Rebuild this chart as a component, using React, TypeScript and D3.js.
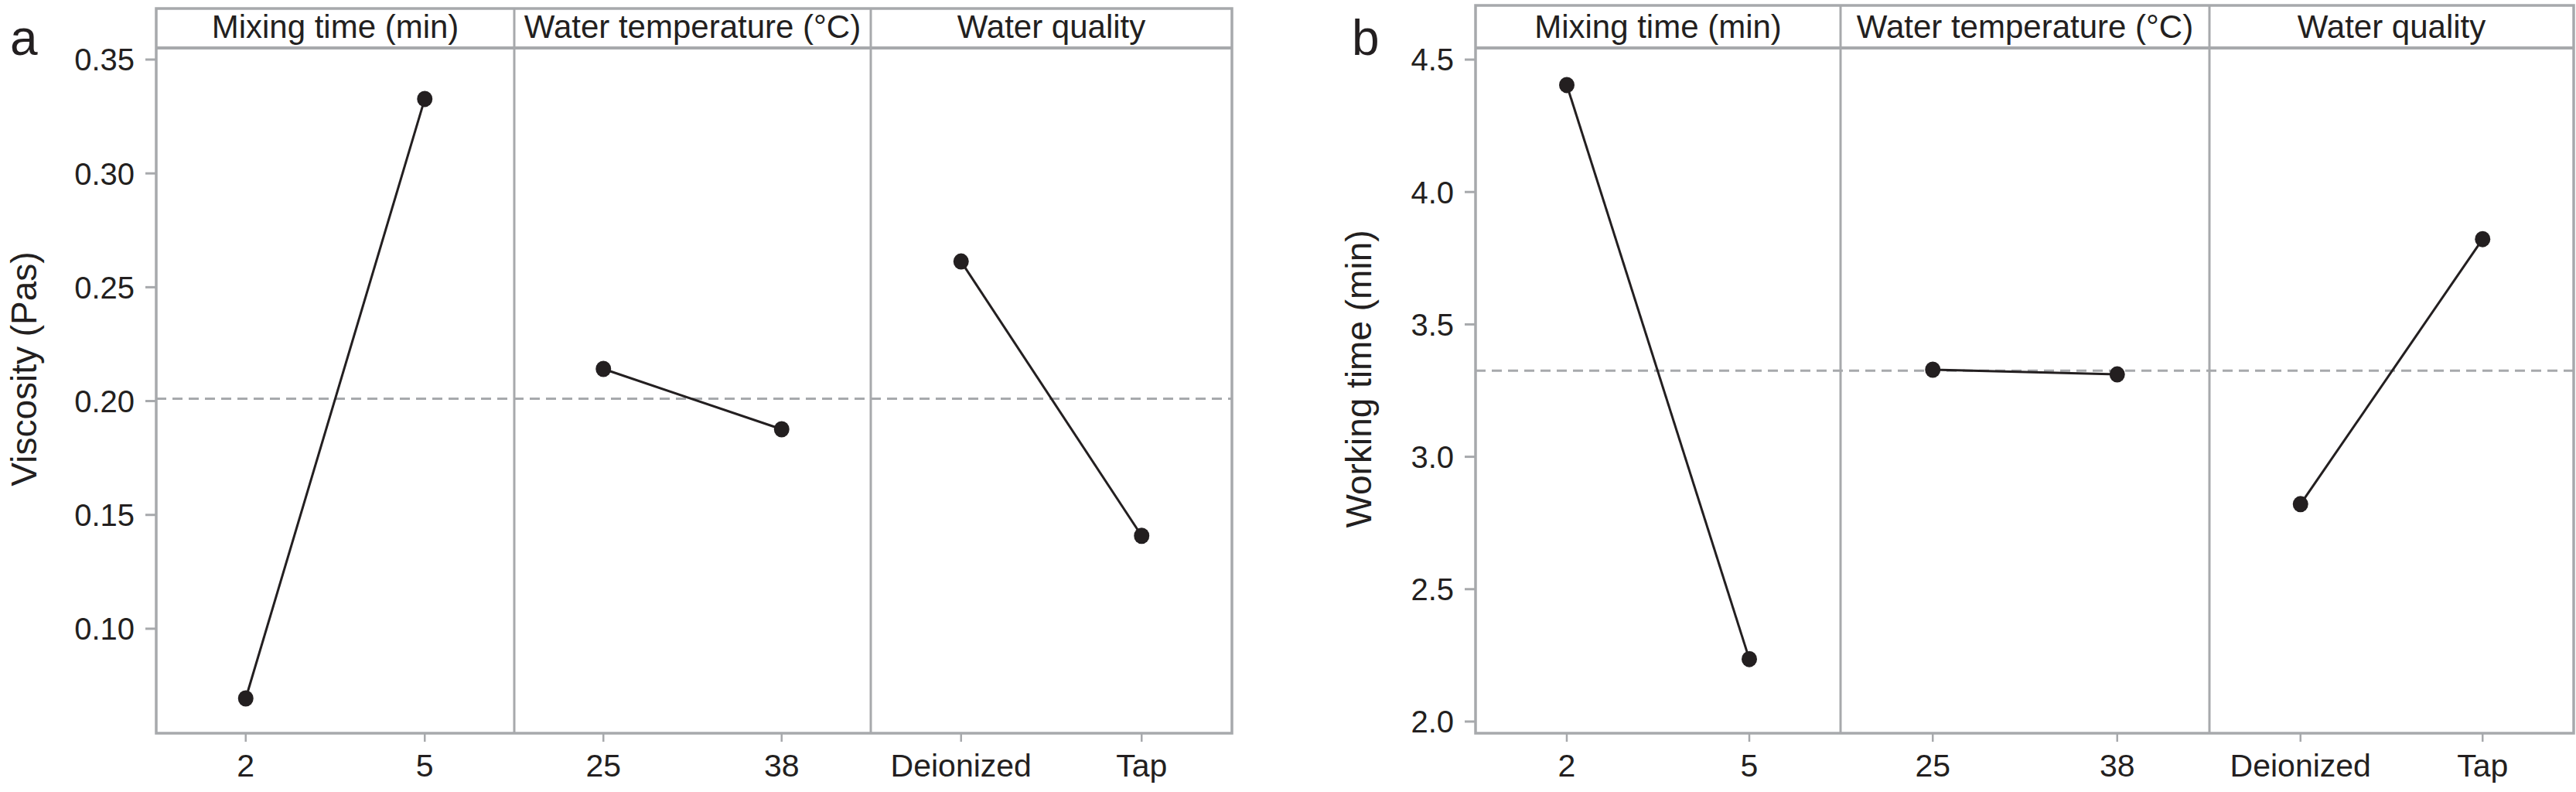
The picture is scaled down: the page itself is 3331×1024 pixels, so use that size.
import * as d3 from "d3"

const factors = ["Mixing time (min)", "Water temperature (°C)", "Water quality"]
const levels = [["2", "5"], ["25", "38"], ["Deionized", "Tap"]]

// main effects means
const viscosity = [[0.0694, 0.3327], [0.2141, 0.1876], [0.2613, 0.1408]]
const viscosityMean = 0.201
const viscosityTicks = [0.1, 0.15, 0.2, 0.25, 0.3, 0.35]

const workingTime = [[4.404, 2.236], [3.329, 3.311], [2.821, 3.822]]
const workingMean = 3.325
const workingTicks = [2.0, 2.5, 3.0, 3.5, 4.0, 4.5]

const GRAY = "#a7a9ac"
const INK = "#231f20"
const FONT = "'Liberation Sans', Arial, Helvetica, sans-serif"

interface PanelProps {
    letter: string
    letterX: number
    edges: number[]
    top: number
    values: number[][]
    mean: number
    ticks: number[]
    domain: [number, number]
    format: (v: number) => string
    title: string
    titleX: number
    titleY: number
}

const stripBottom = 62
const plotBottom = 948

function Panel({ letter, letterX, edges, top, values, mean, ticks, domain, format, title, titleX, titleY }: PanelProps) {
    const y = d3.scaleLinear().domain(domain).range([plotBottom, stripBottom])
    const left = edges[0]
    const right = edges[edges.length - 1]
    const line = d3.line<[number, number]>().x((d) => d[0]).y((d) => d[1])

    return (
        <g>
            <text x={letterX} y={71} fontSize={64} fill={INK} fontFamily={FONT}>{letter}</text>
            <text
                transform={`translate(${titleX},${titleY}) rotate(-90)`}
                textAnchor="middle"
                fontSize={46}
                fill={INK}
                fontFamily={FONT}
            >{title}</text>

            {/* y axis */}
            {ticks.map((t) => (
                <g key={t}>
                    <line x1={left - 14} x2={left} y1={y(t)} y2={y(t)} stroke={GRAY} strokeWidth={3} />
                    <text x={left - 28} y={y(t)} dy="0.36em" textAnchor="end" fontSize={40} fill={INK} fontFamily={FONT}>
                        {format(t)}
                    </text>
                </g>
            ))}

            {/* mean reference */}
            <line x1={left} x2={right} y1={y(mean)} y2={y(mean)} stroke={GRAY} strokeWidth={3} strokeDasharray="13 8" />

            {factors.map((f, i) => {
                const x0 = edges[i]
                const x1 = edges[i + 1]
                const x = d3.scalePoint<string>().domain(levels[i]).range([x0, x1]).padding(0.5)
                const pts: [number, number][] = levels[i].map((l, j) => [x(l)!, y(values[i][j])])
                return (
                    <g key={f}>
                        <text x={(x0 + x1) / 2} y={49} textAnchor="middle" fontSize={42} fill={INK} fontFamily={FONT}>{f}</text>
                        {levels[i].map((l) => (
                            <g key={l}>
                                <line x1={x(l)} x2={x(l)} y1={plotBottom} y2={plotBottom + 11} stroke={GRAY} strokeWidth={2.5} />
                                <text x={x(l)} y={1004} textAnchor="middle" fontSize={41} fill={INK} fontFamily={FONT}>{l}</text>
                            </g>
                        ))}
                        <path d={line(pts)!} fill="none" stroke={INK} strokeWidth={3} />
                        {pts.map((p, j) => (
                            <ellipse key={j} cx={p[0]} cy={p[1]} rx={10} ry={10.5} fill={INK} />
                        ))}
                    </g>
                )
            })}

            {/* frame, strip and dividers */}
            {edges.slice(1, -1).map((e) => (
                <line key={e} x1={e} x2={e} y1={top} y2={plotBottom} stroke={GRAY} strokeWidth={3} />
            ))}
            <line x1={left} x2={right} y1={stripBottom} y2={stripBottom} stroke={GRAY} strokeWidth={4} />
            <rect x={left} y={top} width={right - left} height={plotBottom - top} fill="none" stroke={GRAY} strokeWidth={3.5} />
        </g>
    )
}

export default function App() {
    return (
        <svg
            width={3331}
            height={1024}
            style={{ position: "absolute", left: 0, top: 0, background: "#fff" }}
        >
            <Panel
                letter="a"
                letterX={13}
                edges={[202, 665, 1126, 1593]}
                top={11}
                values={viscosity}
                mean={viscosityMean}
                ticks={viscosityTicks}
                domain={[0.0541, 0.3551]}
                format={d3.format(".2f")}
                title="Viscosity (Pas)"
                titleX={47}
                titleY={477}
            />
            <Panel
                letter="b"
                letterX={1748}
                edges={[1908, 2380, 2857, 3328]}
                top={7}
                values={workingTime}
                mean={workingMean}
                ticks={workingTicks}
                domain={[1.956, 4.544]}
                format={d3.format(".1f")}
                title="Working time (min)"
                titleX={1773}
                titleY={490}
            />
        </svg>
    )
}
